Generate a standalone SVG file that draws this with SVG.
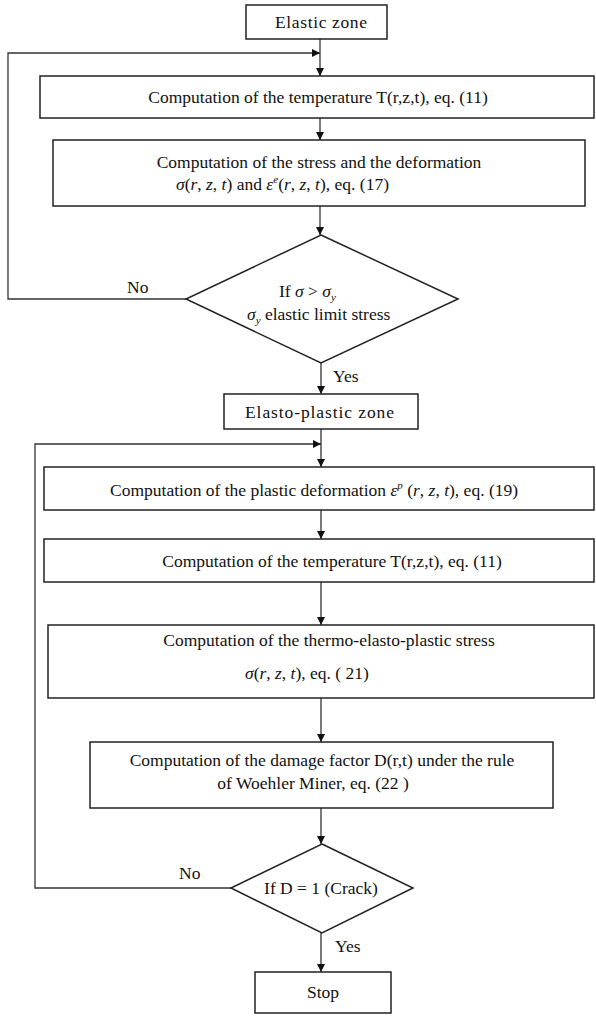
<svg xmlns="http://www.w3.org/2000/svg" width="596" height="1016" viewBox="0 0 596 1016">
<defs>
<marker id="ah" viewBox="0 0 10 10" refX="10" refY="5" markerWidth="8" markerHeight="8" markerUnits="userSpaceOnUse" orient="auto">
<path d="M0,0 L10,5 L0,10 z" fill="#111"/>
</marker>
<style>
.t{font-family:'Liberation Serif','Times New Roman','DejaVu Serif',serif;font-size:17.5px;fill:#111}
.i{font-style:italic}
.s{font-size:11px;font-style:italic}
.box{fill:#fff;stroke:#222;stroke-width:1.5}
.ln{fill:none;stroke:#333;stroke-width:1.3}
.ar{marker-end:url(#ah)}
</style>
</defs>
<rect width="596" height="1016" fill="#fff"/>
<g id="connectors">
<path class="ln ar" d="M320,39 V76"/>
<path class="ln ar" d="M186,299 H8 V53 H320"/>
<path class="ln ar" d="M320,118 V140"/>
<path class="ln ar" d="M320,206 V235"/>
<path class="ln ar" d="M321,363 V394"/>
<path class="ln ar" d="M321,429 V467"/>
<path class="ln ar" d="M231,888 H35 V444 H321"/>
<path class="ln ar" d="M321,510 V539"/>
<path class="ln ar" d="M321,582 V625"/>
<path class="ln ar" d="M321,698 V742"/>
<path class="ln ar" d="M321,808 V844"/>
<path class="ln ar" d="M321,933 V972"/>
<text class="t" x="127" y="293">No</text>
<text class="t" x="333" y="382">Yes</text>
<text class="t" x="179" y="879">No</text>
<text class="t" x="335" y="952">Yes</text>
</g>
<g id="n-elastic">
<rect class="box" x="246" y="5" width="141" height="34"/>
<text class="t" x="275" y="28" textLength="92" lengthAdjust="spacing">Elastic zone</text>
</g>
<g id="n-temp1">
<rect class="box" x="40" y="76" width="554" height="42"/>
<text class="t" x="318" y="103" text-anchor="middle">Computation of the temperature T(r,z,t), eq. (11)</text>
</g>
<g id="n-stress">
<rect class="box" x="53" y="140" width="532" height="66"/>
<text class="t" x="319" y="168" text-anchor="middle">Computation of the stress and the deformation</text>
<text class="t" x="176" y="190"><tspan class="i">σ</tspan>(<tspan class="i">r</tspan>, <tspan class="i">z</tspan>, <tspan class="i">t</tspan>) and <tspan class="i">ε</tspan><tspan class="s" dy="-7">e</tspan><tspan dy="7">(</tspan><tspan class="i">r</tspan>, <tspan class="i">z</tspan>, <tspan class="i">t</tspan>), eq. (17)</text>
</g>
<g id="n-cond1">
<polygon class="box" points="321,235 458,299 321,363 186,299"/>
<text class="t" x="279" y="297">If  <tspan class="i">σ</tspan> &gt; <tspan class="i">σ</tspan><tspan class="s" dy="4">y</tspan></text>
<text class="t" x="247" y="320"><tspan class="i">σ</tspan><tspan class="s" dy="4">y</tspan><tspan dy="-4"> elastic limit stress</tspan></text>
</g>
<g id="n-elastoplastic">
<rect class="box" x="224" y="394" width="194" height="35"/>
<text class="t" x="245" y="418" textLength="149" lengthAdjust="spacing">Elasto-plastic  zone</text>
</g>
<g id="n-plastic">
<rect class="box" x="44" y="467" width="550" height="43"/>
<text class="t" x="110" y="496">Computation of the plastic deformation  <tspan class="i">ε</tspan><tspan class="s" dy="-7">p</tspan><tspan dy="7"> (</tspan><tspan class="i">r</tspan>, <tspan class="i">z</tspan>, <tspan class="i">t</tspan>), eq. (19)</text>
</g>
<g id="n-temp2">
<rect class="box" x="44" y="539" width="550" height="43"/>
<text class="t" x="332" y="567" text-anchor="middle">Computation of the temperature T(r,z,t), eq. (11)</text>
</g>
<g id="n-thermo">
<rect class="box" x="48" y="625" width="546" height="73"/>
<text class="t" x="329" y="646" text-anchor="middle">Computation of the thermo-elasto-plastic stress</text>
<text class="t" x="245" y="679"><tspan class="i">σ</tspan>(<tspan class="i">r</tspan>, <tspan class="i">z</tspan>, <tspan class="i">t</tspan>), eq. ( 21)</text>
</g>
<g id="n-damage">
<rect class="box" x="90" y="742" width="463" height="66"/>
<text class="t" x="322" y="766" text-anchor="middle">Computation of the damage factor D(r,t) under the rule</text>
<text class="t" x="313" y="789" text-anchor="middle">of Woehler Miner, eq. (22 )</text>
</g>
<g id="n-cond2">
<polygon class="box" points="322,844 413,888 322,933 231,888"/>
<text class="t" x="321" y="894" text-anchor="middle">If D = 1 (Crack)</text>
</g>
<g id="n-stop">
<rect class="box" x="255" y="972" width="136" height="41"/>
<text class="t" x="323" y="998" text-anchor="middle">Stop</text>
</g>
</svg>
